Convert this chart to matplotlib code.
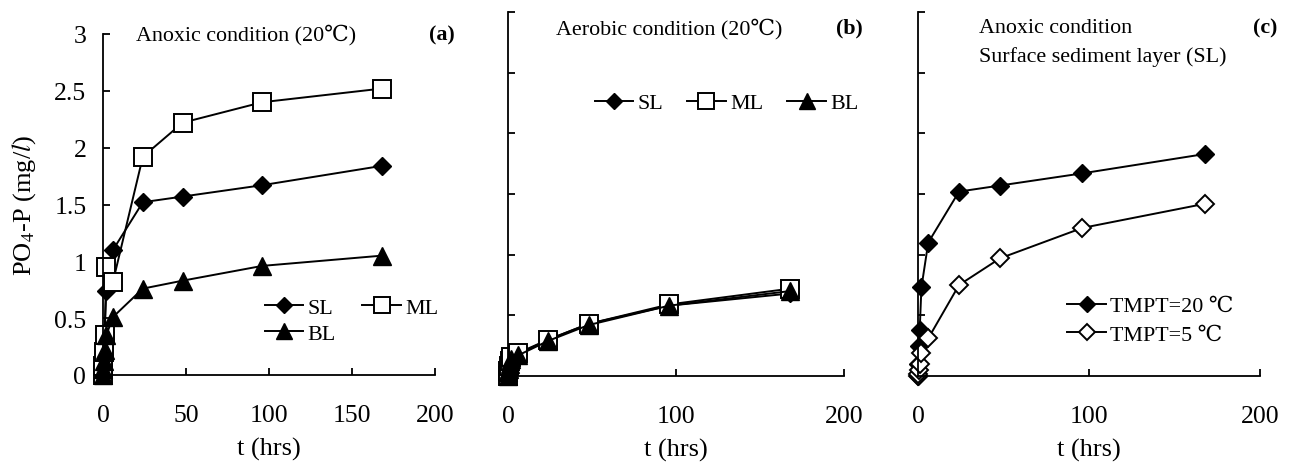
import matplotlib
matplotlib.use("Agg")
import matplotlib.pyplot as plt

plt.rcParams['font.family'] = ['Liberation Serif', 'DejaVu Serif', 'DejaVu Sans']
plt.rcParams['mathtext.fontset'] = 'stix'

# sampling times (hrs)
t = [0, 0.25, 0.5, 1, 2, 6, 24, 48, 96, 168]

# (a) anoxic, 20 C
sl_a = [0, 0.10, 0.25, 0.38, 0.74, 1.10, 1.52, 1.57, 1.67, 1.84]
ml_a = [0, 0.08, 0.20, 0.35, 0.95, 0.82, 1.92, 2.22, 2.40, 2.52]
bl_a = [0, 0.05, 0.12, 0.22, 0.35, 0.51, 0.76, 0.83, 0.96, 1.05]

# (b) aerobic, 20 C
sl_b = [0, 0.03, 0.06, 0.10, 0.14, 0.18, 0.30, 0.43, 0.58, 0.68]
ml_b = [0, 0.04, 0.08, 0.12, 0.16, 0.19, 0.30, 0.43, 0.59, 0.72]
bl_b = [0, 0.03, 0.06, 0.10, 0.14, 0.17, 0.29, 0.42, 0.58, 0.70]

# (c) anoxic, surface layer, two temperatures
tmp20 = [0, 0.10, 0.25, 0.38, 0.73, 1.10, 1.52, 1.57, 1.67, 1.83]
tmp5 = [0, 0.02, 0.05, 0.10, 0.19, 0.31, 0.75, 0.97, 1.22, 1.42]

FS_TXT = 15.8   # annotations
FS_LEG = 15.8
FS_TICK = 18.5
FS_LAB = 19
W, H = 1291, 464


def px_axes(fig, x0, x1, ytop, ybot):
    return fig.add_axes([x0 / W, 1 - ybot / H, (x1 - x0) / W, (ybot - ytop) / H])


def style(ax, xticks, ylabels):
    ax.set_xlim(0, 200)
    ax.set_ylim(0, 3)
    for s in ['top', 'right']:
        ax.spines[s].set_visible(False)
    for s in ['left', 'bottom']:
        ax.spines[s].set_linewidth(1.3)
    ax.set_xticks(xticks)
    ax.set_xticklabels([str(v) for v in xticks])
    yt = [0, 0.5, 1, 1.5, 2, 2.5, 3]
    ax.set_yticks(yt)
    if ylabels:
        ax.set_yticklabels(['0', '0.5', '1', '1.5', '2', '2.5', '3'])
    else:
        ax.set_yticklabels([])
    ax.tick_params(axis='both', direction='in', length=5, width=1.3, labelsize=FS_TICK)
    ax.tick_params(axis='x', pad=21)
    ax.tick_params(axis='y', pad=12)
    ax.set_xlabel('t (hrs)', fontsize=FS_LAB, labelpad=8)


LW = 1.4
dia = dict(marker='D', ms=9.5, mfc='black', mec='black', color='black', lw=LW, clip_on=False)
sq = dict(marker='s', ms=13, mfc='white', mec='black', mew=1.4, color='black', lw=LW, clip_on=False)
tri = dict(marker='^', ms=13.5, mfc='black', mec='black', color='black', lw=LW, clip_on=False)
hdia = dict(marker='D', ms=9.5, mfc='white', mec='black', mew=1.4, color='black', lw=LW, clip_on=False)

leg_kw = dict(frameon=False, fontsize=FS_LEG, borderpad=0, handlelength=1.75,
              handletextpad=0.2, markerscale=0.85)

fig = plt.figure(figsize=(W / 100, H / 100), dpi=100)

# panel (a)
ax1 = px_axes(fig, 103, 435, 35, 376)
l1, = ax1.plot(t, sl_a, label='SL', **dia)
l2, = ax1.plot(t, ml_a, label='ML', **sq)
l3, = ax1.plot(t, bl_a, label='BL', **tri)
style(ax1, [0, 50, 100, 150, 200], True)
ax1.set_ylabel('PO$_4$-P (mg/$l$)', fontsize=FS_LAB)
ax1.yaxis.set_label_coords(-0.197, 0.5)
ax1.text(20, 3.0, 'Anoxic condition (20℃)', fontsize=FS_TXT, va='center', ha='left')
ax1.text(212, 3.0, '(a)', fontsize=FS_TXT, fontweight='bold', va='center', ha='right')
ax1.legend([l1, l3, l2], ['SL', 'BL', 'ML'], ncol=2, loc='upper left',
           bbox_to_anchor=(0.455, 0.26), columnspacing=1.2, labelspacing=0.25, **leg_kw)

# panel (b)
ax2 = px_axes(fig, 508, 844, 13, 377)
m1, = ax2.plot(t, sl_b, label='SL', **dia)
m2, = ax2.plot(t, ml_b, label='ML', **sq)
m3, = ax2.plot(t, bl_b, label='BL', **tri)
style(ax2, [0, 100, 200], False)
ax2.text(28.5, 2.87, 'Aerobic condition (20℃)', fontsize=FS_TXT, va='center', ha='left')
ax2.text(211, 2.87, '(b)', fontsize=FS_TXT, fontweight='bold', va='center', ha='right')
ax2.legend([m1, m2, m3], ['SL', 'ML', 'BL'], ncol=3, loc='center left',
           bbox_to_anchor=(0.225, 0.75), columnspacing=1.1, **leg_kw)

# panel (c)
ax3 = px_axes(fig, 918, 1260, 13, 377)
n1, = ax3.plot(t, tmp20, label='TMPT=20 ℃', **dia)
n2, = ax3.plot(t, tmp5, label='TMPT=5 ℃', **hdia)
style(ax3, [0, 100, 200], False)
ax3.text(35.5, 2.87, 'Anoxic condition', fontsize=FS_TXT, va='center', ha='left')
ax3.text(35.5, 2.64, 'Surface sediment layer (SL)', fontsize=FS_TXT, va='center', ha='left')
ax3.text(210, 2.87, '(c)', fontsize=FS_TXT, fontweight='bold', va='center', ha='right')
ax3.legend(loc='upper left', bbox_to_anchor=(0.405, 0.25), labelspacing=0.35, **leg_kw)

fig.savefig('out.png', dpi=100)
